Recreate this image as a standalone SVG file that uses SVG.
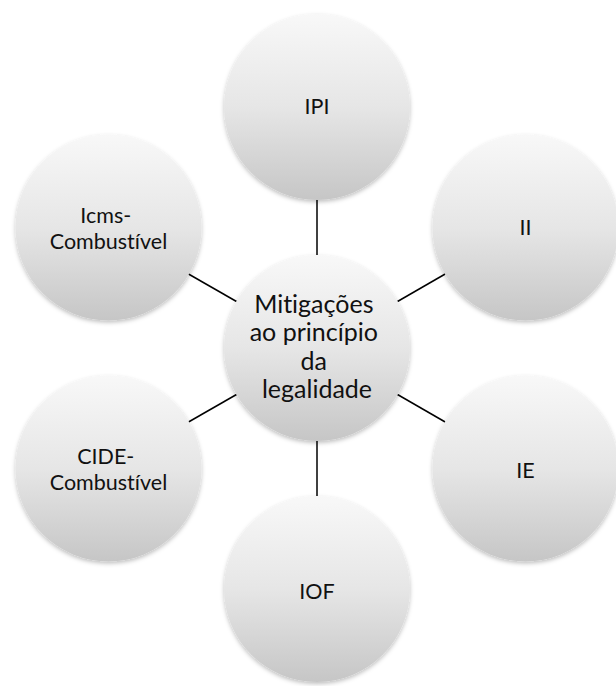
<svg xmlns="http://www.w3.org/2000/svg" width="616" height="686" viewBox="0 0 616 686">
  <style>
    .node { fill: url(#ball); filter: url(#soft); }
    .lbl { font-family: Lato, "Liberation Sans", sans-serif; font-size: 21.5px; fill: #111; text-anchor: middle; font-variant-ligatures: none; }
    .hub { font-size: 25px; }
    .link { stroke: #000; stroke-width: 1.5; fill: none; }
  </style>
  <defs>
    <linearGradient id="ball" x1="0" y1="0" x2="0" y2="1">
      <stop offset="0" stop-color="#f8f8f8"/>
      <stop offset="0.5" stop-color="#e6e6e6"/>
      <stop offset="1" stop-color="#c6c6c6"/>
    </linearGradient>
    <filter id="soft" x="-20%" y="-20%" width="140%" height="140%">
      <feDropShadow dx="0" dy="2" stdDeviation="2" flood-color="#000" flood-opacity="0.25"/>
    </filter>
  </defs>
  <rect width="616" height="686" fill="#fff"/>

  <!-- spokes from the hub to each surrounding circle -->
  <g id="connectors">
    <line class="link" x1="317" y1="255" x2="317" y2="200"/>
    <line class="link" x1="397.5" y1="301.5" x2="445.2" y2="274"/>
    <line class="link" x1="397.5" y1="394.5" x2="445.2" y2="422"/>
    <line class="link" x1="317" y1="441" x2="317" y2="496"/>
    <line class="link" x1="236.5" y1="394.5" x2="188.5" y2="422"/>
    <line class="link" x1="236.5" y1="301.5" x2="188.5" y2="274"/>
  </g>

  <g id="hub">
    <circle class="node" cx="317" cy="348" r="93"/>
    <text class="lbl hub">
      <tspan x="317" y="312.5">Mitigações</tspan>
      <tspan x="317" y="341">ao princípio</tspan>
      <tspan x="317" y="370">da</tspan>
      <tspan x="317" y="398">legalidade</tspan>
    </text>
  </g>

  <g id="ipi">
    <circle class="node" cx="317" cy="107" r="93"/>
    <text class="lbl" x="317" y="114">IPI</text>
  </g>

  <g id="ii">
    <circle class="node" cx="525.5" cy="227.5" r="93"/>
    <text class="lbl" x="525.5" y="235">II</text>
  </g>

  <g id="ie">
    <circle class="node" cx="525.5" cy="468.5" r="93"/>
    <text class="lbl" x="525.5" y="478">IE</text>
  </g>

  <g id="iof">
    <circle class="node" cx="317" cy="589" r="93"/>
    <text class="lbl" x="317" y="598.5">IOF</text>
  </g>

  <g id="cide">
    <circle class="node" cx="108.5" cy="468.5" r="93"/>
    <text class="lbl">
      <tspan x="108.5" y="464">CIDE-</tspan>
      <tspan x="108.5" y="490">Combustível</tspan>
    </text>
  </g>

  <g id="icms">
    <circle class="node" cx="108.5" cy="227.5" r="93"/>
    <text class="lbl">
      <tspan x="108.5" y="222.5">Icms-</tspan>
      <tspan x="108.5" y="248.5">Combustível</tspan>
    </text>
  </g>
</svg>
